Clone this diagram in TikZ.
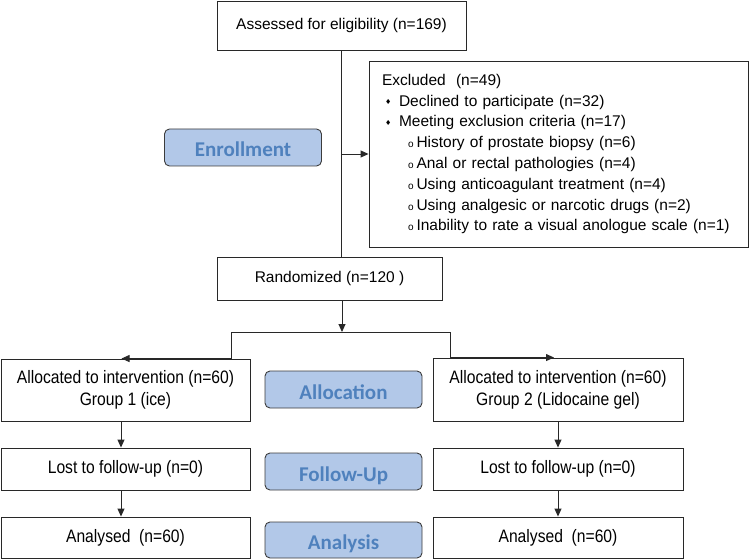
\documentclass[tikz,border=0pt]{standalone}
\usepackage{fontspec}
\setmainfont{Liberation Sans}
\newfontfamily\cali{Carlito}
\newfontfamily\condf[FakeStretch=0.87]{Liberation Sans}
\newfontfamily\symf{DejaVu Sans}
\usetikzlibrary{arrows.meta}
\definecolor{lblfill}{RGB}{178,200,232}
\definecolor{lbltext}{RGB}{79,129,189}
\definecolor{lbldraw}{RGB}{60,60,60}
\definecolor{ln}{RGB}{40,40,40}
\newcommand{\bul}{{\symf\fontsize{7}{7}\selectfont\raisebox{1.5pt}{♦}}}
\newcommand{\subb}{{\fontsize{10}{10}\selectfont o}}
\begin{document}
\begin{tikzpicture}[x=1pt,y=-1pt,
 box/.style={draw=ln,line width=0.9pt,inner sep=0pt,align=center,font=\fontsize{15.5}{18}\selectfont},
 cbox/.style={box,minimum width=249pt,font=\condf\fontsize{18}{22}\selectfont},
 lbl/.style={draw=lbldraw,line width=0.9pt,fill=lblfill,rounded corners=5pt,minimum width=157pt,minimum height=37pt,inner sep=0pt,text height=19pt,text depth=0pt,text=lbltext,font=\cali\bfseries\fontsize{21}{25}\selectfont},
 arr/.style={draw=ln,line width=0.9pt,-{Triangle[length=8pt,width=7pt]}},
 con/.style={draw=ln,line width=0.9pt}]
\useasboundingbox (0,0) rectangle (750,559);

\node[box,minimum width=249pt,minimum height=49pt] (assess) at (341.5,25.5) {Assessed for eligibility (n=169)};
\node[box,minimum width=379pt,minimum height=186pt,text width=353pt,align=left,font=\fontsize{15.5}{20.8}\selectfont] (excl) at (558.5,154) {%
Excluded\ \ (n=49)\\
\hspace*{3pt}\makebox[14pt][l]{\bul}Declined to participate (n=32)\\
\hspace*{3pt}\makebox[14pt][l]{\bul}Meeting exclusion criteria (n=17)\\
\hspace*{26pt}\makebox[8.5pt][l]{\subb}History of prostate biopsy (n=6)\\
\hspace*{26pt}\makebox[8.5pt][l]{\subb}Anal or rectal pathologies (n=4)\\
\hspace*{26pt}\makebox[8.5pt][l]{\subb}Using anticoagulant treatment (n=4)\\
\hspace*{26pt}\makebox[8.5pt][l]{\subb}Using analgesic or narcotic drugs (n=2)\\
\hspace*{26pt}\makebox[8.5pt][l]{\subb}Inability to rate a visual anologue scale (n=1)};
\node[box,minimum width=225pt,minimum height=43pt] (rand) at (329.5,278.5) {Randomized (n=120 )};
\node[lbl] (enroll) at (243,147.5) {Enrollment};

\node[cbox,minimum height=62pt] (alloc1) at (125.5,390) {Allocated to intervention (n=60)\\Group 1 (ice)};
\node[cbox,minimum width=250pt,minimum height=63pt] (alloc2) at (558,389.5) {Allocated to intervention (n=60)\\Group 2 (Lidocaine gel)};
\node[lbl] (allocl) at (343.5,389.5) {Allocation};

\node[cbox,minimum height=42pt] (lost1) at (125.5,469) {Lost to follow-up (n=0)};
\node[cbox,minimum width=250pt,minimum height=42pt] (lost2) at (558,469) {Lost to follow-up (n=0)};
\node[lbl] (follow) at (343.5,471.5) {Follow-Up};

\node[cbox,minimum height=41pt] (an1) at (125.5,537.5) {Analysed\ \ (n=60)};
\node[cbox,minimum width=250pt,minimum height=41pt] (an2) at (558,537.5) {Analysed\ \ (n=60)};
\node[lbl,minimum height=36pt] (anl) at (343.5,540) {Analysis};

% connectors
\coordinate (j1) at (assess.south |- excl.west);
\draw[con] (assess.south) -- (assess.south |- rand.north);
\draw[arr] (j1) -- (excl.west);
\coordinate (split) at (342,332);
\coordinate (L) at (231,332);
\coordinate (R) at (450,332);
\draw[arr] (rand.south -| split) -- (split);
\draw[con] (L) -- (R);
\draw[arr] (L) |- ([xshift=-4pt]alloc1.north);
\draw[arr] (R) |- ([xshift=-4pt]alloc2.north);
\draw[arr] ([xshift=-4.5pt]alloc1.south) -- ([xshift=-4.5pt]lost1.north);
\draw[arr] ([xshift=-4.5pt]lost1.south) -- ([xshift=-4.5pt]an1.north);
\draw[arr] (alloc2.south) -- (lost2.north);
\draw[arr] (lost2.south) -- (an2.north);
\end{tikzpicture}
\end{document}
